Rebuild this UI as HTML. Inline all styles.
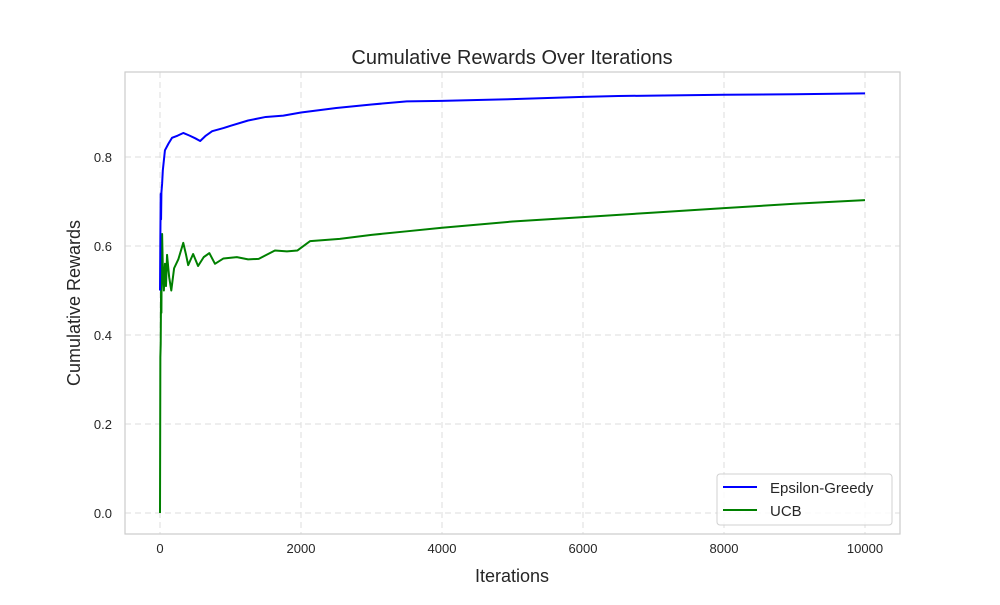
<!DOCTYPE html>
<html><head><meta charset="utf-8"><style>
body{margin:0;background:#fff;}
svg text{font-family:"Liberation Sans",Arial,sans-serif;fill:#262626;}
</style></head><body>
<svg id="chart" width="1000" height="600" xmlns="http://www.w3.org/2000/svg">
<rect x="0" y="0" width="1000" height="600" fill="#fff"/>
<text x="512" y="64" font-size="20" text-anchor="middle">Cumulative Rewards Over Iterations</text>
<g id="grid"></g>
<g id="series"></g>
<rect x="125" y="72" width="775" height="462" fill="none" stroke="#cccccc" stroke-width="1.2"/>
<g id="ticks"></g>
<text x="512" y="582" font-size="18" text-anchor="middle">Iterations</text>
<text x="80" y="303" font-size="18" text-anchor="middle" transform="rotate(-90 80 303)">Cumulative Rewards</text>
<g>
<rect x="717" y="474" width="175" height="51" rx="3" fill="#fff" fill-opacity="0.8" stroke="#d0d0d0"/>
<line x1="723" y1="487" x2="757" y2="487" stroke="#0000ff" stroke-width="2"/>
<text x="770" y="493" font-size="15">Epsilon-Greedy</text>
<line x1="723" y1="510" x2="757" y2="510" stroke="#008000" stroke-width="2"/>
<text x="770" y="516" font-size="15">UCB</text>
</g>
</svg>
<script>
const xTicks=[0,2000,4000,6000,8000,10000];
const yTicks=[0.0,0.2,0.4,0.6,0.8];
const epsIter=[0,5,10,15,20,30,40,70,120,170,250,330,420,500,570,650,740,900,1000,1250,1500,1750,2000,2500,3000,3500,4000,4500,5000,6000,6500,7000,8000,9000,10000];
const epsVal=[0.50,0.62,0.717,0.66,0.72,0.74,0.77,0.815,0.83,0.843,0.848,0.854,0.848,0.842,0.836,0.848,0.858,0.865,0.87,0.882,0.89,0.893,0.90,0.91,0.918,0.925,0.926,0.928,0.93,0.935,0.937,0.938,0.94,0.941,0.943];
const ucbIter=[0,5,10,15,20,25,30,40,55,70,85,100,130,160,200,260,330,370,400,470,540,620,700,780,900,1090,1250,1400,1630,1800,1950,2130,2550,3000,3500,4000,5000,6000,7000,8000,9000,10000];
const ucbVal=[0,0.35,0.38,0.5,0.45,0.6,0.627,0.55,0.50,0.56,0.51,0.58,0.53,0.50,0.55,0.57,0.607,0.58,0.557,0.582,0.555,0.575,0.584,0.56,0.572,0.575,0.57,0.571,0.59,0.588,0.59,0.611,0.616,0.625,0.633,0.641,0.655,0.665,0.675,0.685,0.695,0.703];
const X=v=>160+v*0.0705;
const Y=v=>513-v*445;
const NS="http://www.w3.org/2000/svg";
const grid=document.getElementById('grid'),ticks=document.getElementById('ticks'),ser=document.getElementById('series');
function mk(t,a){const e=document.createElementNS(NS,t);for(const k in a)e.setAttribute(k,a[k]);return e;}
xTicks.forEach(v=>{
 const l=mk('line',{x1:X(v),x2:X(v),y1:72,y2:534,stroke:'#dddddd','stroke-dasharray':'6,4'});
 
 
 grid.appendChild(l);
 const t=mk('text',{x:X(v),y:553,'font-size':13,'text-anchor':'middle'});t.textContent=v;
 
 
 ticks.appendChild(t);
});
yTicks.forEach(v=>{
 const l=mk('line',{x1:125,x2:900,y1:Y(v),y2:Y(v),stroke:'#dddddd','stroke-dasharray':'6,4'});
 
 
 grid.appendChild(l);
 const t=mk('text',{x:112,y:Y(v)+5,'font-size':13,'text-anchor':'end'});t.textContent=v.toFixed(1);
 
 
 ticks.appendChild(t);
});
function line(xs,ys,c,name){
 const p=mk('polyline',{points:xs.map((x,i)=>X(x)+','+Y(ys[i])).join(' '),fill:'none',stroke:c,'stroke-width':2,'stroke-linejoin':'round'});
 
 
 ser.appendChild(p);
}
line(ucbIter,ucbVal,'#008000','ucb-line');
line(epsIter,epsVal,'#0000ff','epsilon-greedy-line');
</script>
</body></html>
